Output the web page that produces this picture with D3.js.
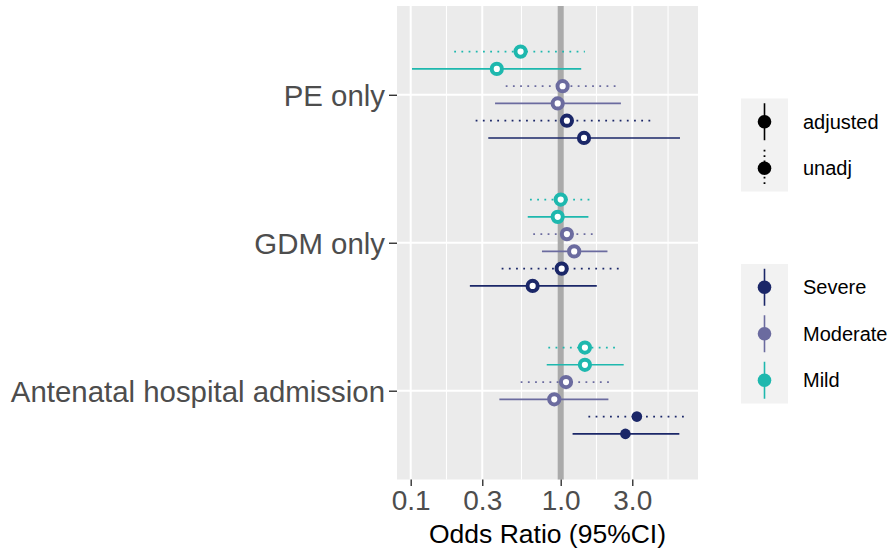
<!DOCTYPE html>
<html><head><meta charset="utf-8">
<script src="https://cdn.jsdelivr.net/npm/d3@7"></script>
<style>body{margin:0;background:#fff}svg{display:block;font-family:"Liberation Sans",Arial,sans-serif}</style>
</head><body><svg id="c" width="894" height="554"></svg>
<script>
const categories = ["PE only", "GDM only", "Antenatal hospital admission"];
const severities = ["Severe", "Moderate", "Mild"];
const severityColors = ["#1B2768", "#6B6B9F", "#1EB8AE"];
const models = ["adjusted", "unadj"];
const xTicks = [0.1, 0.3, 1.0, 3.0];
const xTickLabels = ["0.1", "0.3", "1.0", "3.0"];

// values ordered like categories: PE only, GDM only, Antenatal hospital admission
const mildUnadjOR = [0.54, 1.00, 1.45];
const mildUnadjLo = [0.195, 0.624, 0.827];
const mildUnadjHi = [1.45, 1.61, 2.40];
const mildAdjOR = [0.375, 0.955, 1.45];
const mildAdjLo = [0.102, 0.603, 0.807];
const mildAdjHi = [1.37, 1.53, 2.63];
const modUnadjOR = [1.03, 1.10, 1.085];
const modUnadjLo = [0.43, 0.656, 0.541];
const modUnadjHi = [2.33, 1.72, 2.16];
const modAdjOR = [0.955, 1.23, 0.906];
const modAdjLo = [0.365, 0.75, 0.39];
const modAdjHi = [2.52, 2.05, 2.08];
const sevUnadjOR = [1.10, 1.015, 3.22];
const sevUnadjLo = [0.271, 0.404, 1.53];
const sevUnadjHi = [4.25, 2.46, 6.74];
const sevAdjOR = [1.43, 0.65, 2.70];
const sevAdjLo = [0.329, 0.248, 1.20];
const sevAdjHi = [6.24, 1.74, 6.18];

// series listed in dodge order, top to bottom
const series = [
  {sev: "Mild", model: "unadj", or: mildUnadjOR, lo: mildUnadjLo, hi: mildUnadjHi},
  {sev: "Mild", model: "adjusted", or: mildAdjOR, lo: mildAdjLo, hi: mildAdjHi},
  {sev: "Moderate", model: "unadj", or: modUnadjOR, lo: modUnadjLo, hi: modUnadjHi},
  {sev: "Moderate", model: "adjusted", or: modAdjOR, lo: modAdjLo, hi: modAdjHi},
  {sev: "Severe", model: "unadj", or: sevUnadjOR, lo: sevUnadjLo, hi: sevUnadjHi},
  {sev: "Severe", model: "adjusted", or: sevAdjOR, lo: sevAdjLo, hi: sevAdjHi}
];

const svg = d3.select("#c");
const P = {l: 397, r: 698, t: 6, b: 479.5};

const x = d3.scaleLog().range([P.l, P.r]);
// calibrate: 0.1 -> 410.7, 1 -> 560.7
x.domain([Math.pow(10, (P.l - 560.7) / 150), Math.pow(10, (P.r - 560.7) / 150)]);
const y = d3.scalePoint().domain(categories).range([P.t, P.b]).padding(0.6);
const color = d3.scaleOrdinal().domain(severities).range(severityColors);
const dodge = y.step() * 0.7 / series.length;

// panel
svg.append("rect").attr("x", P.l).attr("y", P.t).attr("width", P.r - P.l).attr("height", P.b - P.t).attr("fill", "#EBEBEB");

// minor gridlines (midpoints in log space, with extension beyond last break)
const lt = xTicks.map(Math.log10);
const ext = lt.concat([lt[lt.length - 1] + (lt[1] - lt[0])]);
const minor = [];
for (let i = 0; i < ext.length - 1; i++) minor.push(Math.pow(10, (ext[i] + ext[i + 1]) / 2));
svg.append("g").selectAll("line").data(minor.filter(v => x(v) > P.l && x(v) < P.r)).join("line")
  .attr("x1", d => x(d)).attr("x2", d => x(d)).attr("y1", P.t).attr("y2", P.b)
  .attr("stroke", "#fff").attr("stroke-width", 1.1);
svg.append("g").selectAll("line").data(xTicks).join("line")
  .attr("x1", d => x(d)).attr("x2", d => x(d)).attr("y1", P.t).attr("y2", P.b)
  .attr("stroke", "#fff").attr("stroke-width", 2);
svg.append("g").selectAll("line").data(categories).join("line")
  .attr("x1", P.l).attr("x2", P.r).attr("y1", d => y(d)).attr("y2", d => y(d))
  .attr("stroke", "#fff").attr("stroke-width", 2);

// reference line at 1
svg.append("line").attr("x1", x(1)).attr("x2", x(1)).attr("y1", P.t).attr("y2", P.b)
  .attr("stroke", "#AAAAAA").attr("stroke-width", 6);

// error bars and points
const rows = [];
series.forEach((s, k) => {
  categories.forEach((c, i) => {
    rows.push({cat: c, k, sev: s.sev, model: s.model, or: s.or[i], lo: s.lo[i], hi: s.hi[i]});
  });
});
const yy = d => y(d.cat) + (d.k - (series.length - 1) / 2) * dodge;
const sig = d => d.lo > 1 || d.hi < 1;
const g = svg.append("g");
g.selectAll("line.ci").data(rows).join("line").attr("class", "ci")
  .attr("x1", d => x(d.lo)).attr("x2", d => x(d.hi)).attr("y1", yy).attr("y2", yy)
  .attr("stroke", d => color(d.sev))
  .attr("stroke-width", d => d.model === "unadj" ? 1.8 : 1.6)
  .attr("stroke-dasharray", d => d.model === "unadj" ? "1.8,5.4" : null);
g.selectAll("circle").data(rows).join("circle")
  .attr("cx", d => x(d.or)).attr("cy", yy)
  .attr("r", d => sig(d) ? 5.3 : 5.1)
  .attr("fill", d => sig(d) ? color(d.sev) : "#fff")
  .attr("stroke", d => color(d.sev))
  .attr("stroke-width", d => sig(d) ? 0 : 4);

// axes
const yAxis = d3.axisLeft(y).tickSize(8).tickPadding(4);
const ya = svg.append("g").attr("transform", `translate(${P.l},0)`).call(yAxis);
ya.select(".domain").remove();
ya.selectAll(".tick line").attr("stroke", "#333").attr("stroke-width", 1.4);
ya.selectAll(".tick text").attr("fill", "#4D4D4D").style("font-size", "29.4px")
  .attr("font-family", "Liberation Sans, Arial, sans-serif").attr("dy", "0.35em");

const xAxis = d3.axisBottom(x).tickValues(xTicks).tickFormat((d, i) => xTickLabels[i]).tickSize(6.5).tickPadding(4);
const xa = svg.append("g").attr("transform", `translate(0,${P.b})`).call(xAxis);
xa.select(".domain").remove();
xa.selectAll(".tick line").attr("stroke", "#333").attr("stroke-width", 1.4);
xa.selectAll(".tick text").attr("fill", "#4D4D4D").style("font-size", "28px")
  .attr("font-family", "Liberation Sans, Arial, sans-serif").attr("dy", "0.71em");

svg.append("text").attr("x", (P.l + P.r) / 2).attr("y", 542.5).attr("text-anchor", "middle")
  .style("font-size", "26.5px").attr("fill", "#000").text("Odds Ratio (95%CI)");

// legends
const KX = 741, KW = 47, KH = 46.5;
function legend(top, items, drawKey) {
  const lg = svg.append("g");
  lg.append("rect").attr("x", KX).attr("y", top).attr("width", KW).attr("height", KH * items.length).attr("fill", "#F2F2F2");
  items.forEach((it, i) => {
    const cy = top + KH * i + KH / 2;
    drawKey(lg, it, KX + KW / 2, cy);
    lg.append("text").attr("x", 803).attr("y", cy).attr("dy", "0.36em")
      .style("font-size", "20px").attr("fill", "#000").text(it);
  });
}
legend(98.5, models, (lg, m, cx, cy) => {
  lg.append("line").attr("x1", cx).attr("x2", cx).attr("y1", cy - 18.5).attr("y2", cy + 18.5)
    .attr("stroke", "#000").attr("stroke-width", m === "unadj" ? 1.8 : 1.6)
    .attr("stroke-dasharray", m === "unadj" ? "1.8,3.6" : null);
  lg.append("circle").attr("cx", cx).attr("cy", cy).attr("r", 6.8).attr("fill", "#000");
});
legend(264, severities, (lg, s, cx, cy) => {
  lg.append("line").attr("x1", cx).attr("x2", cx).attr("y1", cy - 18.5).attr("y2", cy + 18.5)
    .attr("stroke", color(s)).attr("stroke-width", 1.6);
  lg.append("circle").attr("cx", cx).attr("cy", cy).attr("r", 6.8).attr("fill", color(s));
});
</script></body></html>
